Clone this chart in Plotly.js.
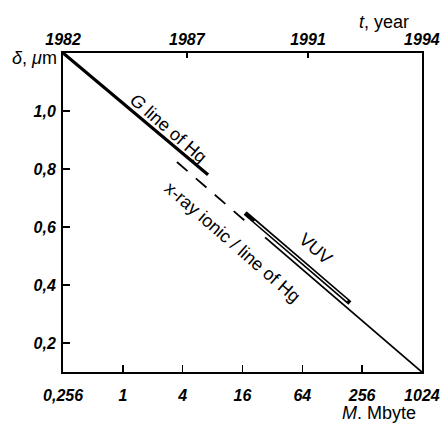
<!DOCTYPE html>
<html>
<head>
<meta charset="utf-8">
<script src="https://cdn.plot.ly/plotly-3.0.1.min.js"></script>
<style>html,body{margin:0;padding:0;background:#fff}#chart{width:440px;height:425px}</style>
</head>
<body>
<div id="chart"></div>
<script>
// Bottom axis: memory M, Mbyte (log scale, factor-4 steps)
const massTicks = [0.25, 1, 4, 16, 64, 256, 1024];
const massLabels = ['0,256', '1', '4', '16', '64', '256', '1024'];
// Top axis: year
const years = ['1982', '1987', '1991', '1994'];
const yearMass = [0.25, 4.4, 73, 1024];
// Left axis: delta, um
const deltaTicks = [0.2, 0.4, 0.6, 0.8, 1.0];
const deltaLabels = ['0,2', '0,4', '0,6', '0,8', '1,0'];

// G line of Hg
const gLineM = [0.25, 7.2];
const gLineD = [1.2, 0.78];
// x-ray ionic (dashed part)
const xrayM = [3.5, 19.1];
const xrayD = [0.824, 0.606];
// line of Hg (solid part)
const hgM = [27, 1024];
const hgD = [0.564, 0.1];
// VUV (double line)
const vuvM = [17, 193];
const vuvD = [0.648, 0.338];
const vuvInnerM = [21, 182];
const vuvInnerD = [0.621, 0.3455];

const tickFont = {family: '"Liberation Sans", Arial, sans-serif', size: 16, weight: 'bold', style: 'italic', color: '#000'};
const textFont = {family: '"Liberation Sans", Arial, sans-serif', size: 18, color: '#000'};
const lg = v => Math.log10(v);
const xRange = [lg(0.25) - 0.0008, lg(1024) + 0.0008];

const traces = [
  {x: gLineM, y: gLineD, mode: 'lines', line: {color: '#000', width: 3.2}, hoverinfo: 'skip'},
  {x: xrayM, y: xrayD, mode: 'lines', line: {color: '#000', width: 1.8, dash: '14px,11px'}, hoverinfo: 'skip'},
  {x: hgM, y: hgD, mode: 'lines', line: {color: '#000', width: 1.8}, hoverinfo: 'skip'},
  {x: vuvM, y: vuvD, mode: 'lines', line: {color: '#000', width: 4.6}, hoverinfo: 'skip'},
  {x: vuvInnerM, y: vuvInnerD, mode: 'lines', line: {color: '#fff', width: 1.4}, hoverinfo: 'skip'},
  {x: [yearMass[0], yearMass[yearMass.length - 1]], y: [null, null], xaxis: 'x2', mode: 'lines', hoverinfo: 'skip'}
];

const layout = {
  width: 440, height: 425,
  margin: {l: 63, r: 18, t: 53, b: 53},
  paper_bgcolor: '#fff', plot_bgcolor: '#fff',
  showlegend: false,
  xaxis: {
    type: 'log', range: xRange,
    tickvals: massTicks, ticktext: massLabels,
    ticks: 'inside', ticklen: 7, tickwidth: 1.5, tickcolor: '#000',
    showline: true, linecolor: '#000', linewidth: 2, mirror: false,
    showgrid: false, zeroline: false, tickfont: tickFont, ticklabelstandoff: 8
  },
  xaxis2: {
    type: 'log', range: xRange, overlaying: 'x', side: 'top',
    tickvals: yearMass, ticktext: years,
    ticks: 'inside', ticklen: 5, tickwidth: 1.5, tickcolor: '#000',
    showline: true, linecolor: '#000', linewidth: 2,
    showgrid: false, zeroline: false, tickfont: tickFont, ticklabelstandoff: 0
  },
  yaxis: {
    range: [0.1, 1.2],
    tickvals: deltaTicks, ticktext: deltaLabels,
    ticks: 'inside', ticklen: 7, tickwidth: 1.5, tickcolor: '#000',
    showline: true, linecolor: '#000', linewidth: 2, mirror: true,
    showgrid: false, zeroline: false, tickfont: tickFont, ticklabelstandoff: 2
  },
  annotations: [
    {xref: 'x', yref: 'y', x: lg(2.85), y: 0.941, text: '<i>G</i> line of Hg', showarrow: false, textangle: 41, font: textFont},
    {xref: 'x', yref: 'y', x: lg(12.6), y: 0.548, text: 'x-ray ionic / line of Hg', showarrow: false, textangle: 41, font: textFont},
    {xref: 'x', yref: 'y', x: lg(87.5), y: 0.524, text: 'VUV', showarrow: false, textangle: 41, font: textFont},
    {xref: 'paper', yref: 'paper', x: -0.012, y: 0.985, xanchor: 'right', yanchor: 'middle', text: '<i>δ</i>, <i>μ</i>m', showarrow: false, font: textFont},
    {xref: 'paper', yref: 'paper', x: 0.894, y: 1.097, xanchor: 'center', yanchor: 'middle', text: '<i>t</i>, year', showarrow: false, font: textFont},
    {xref: 'paper', yref: 'paper', x: 0.88, y: -0.13, xanchor: 'center', yanchor: 'middle', text: '<i>M</i>. Mbyte', showarrow: false, font: textFont}
  ]
};

Plotly.newPlot('chart', traces, layout, {staticPlot: true, displayModeBar: false});
</script>
</body>
</html>
